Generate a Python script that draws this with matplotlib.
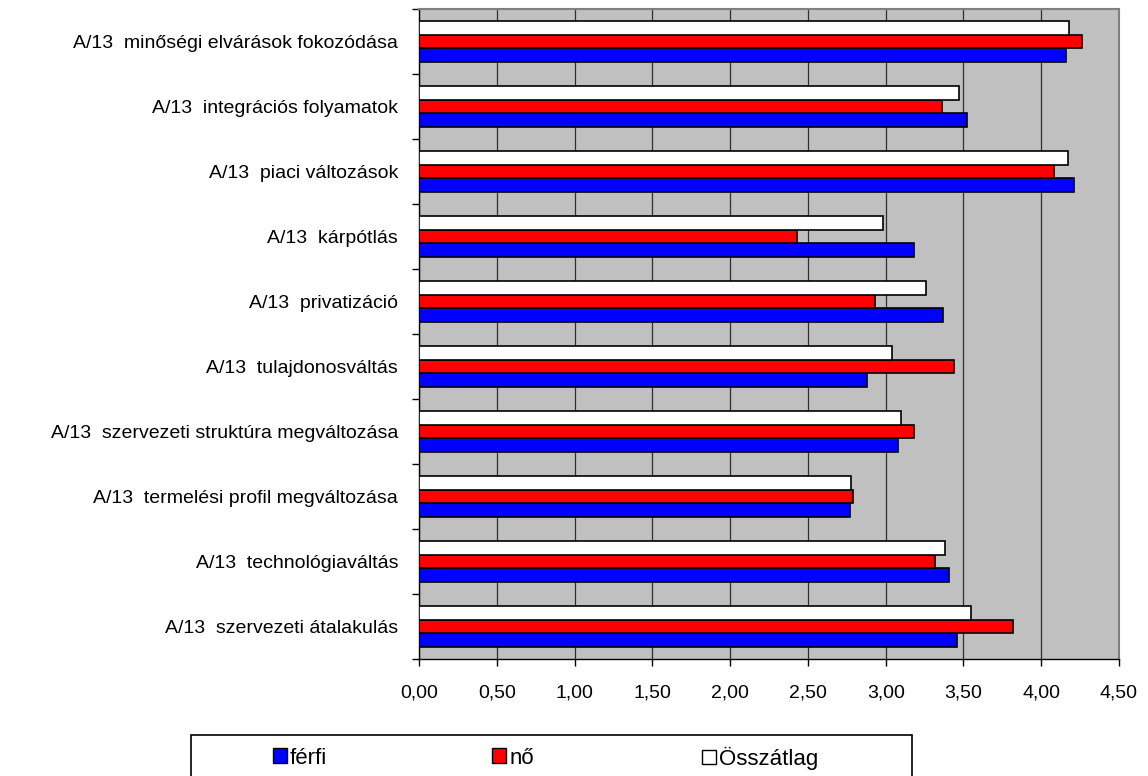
import matplotlib
matplotlib.use("Agg")
import matplotlib.pyplot as plt
from matplotlib.patches import Patch, Rectangle
from matplotlib.ticker import FixedLocator, NullFormatter
import numpy as np

plt.rcParams['font.family'] = ['Liberation Sans', 'DejaVu Sans']

# Categories listed bottom to top
categories = [
    "A/13  szervezeti átalakulás",
    "A/13  technológiaváltás",
    "A/13  termelési profil megváltozása",
    "A/13  szervezeti struktúra megváltozása",
    "A/13  tulajdonosváltás",
    "A/13  privatizáció",
    "A/13  kárpótlás",
    "A/13  piaci változások",
    "A/13  integrációs folyamatok",
    "A/13  minőségi elvárások fokozódása",
]
ferfi = [3.46, 3.41, 2.77, 3.08, 2.88, 3.37, 3.18, 4.21, 3.52, 4.16]
no = [3.82, 3.32, 2.79, 3.18, 3.44, 2.93, 2.43, 4.08, 3.36, 4.26]
osszatlag = [3.55, 3.38, 2.78, 3.10, 3.04, 3.26, 2.985, 4.17, 3.47, 4.18]

x_ticks = [0.0, 0.5, 1.0, 1.5, 2.0, 2.5, 3.0, 3.5, 4.0, 4.5]
x_tick_labels = ["0,00", "0,50", "1,00", "1,50", "2,00",
                 "2,50", "3,00", "3,50", "4,00", "4,50"]

series_names = ["férfi", "nő", "Összátlag"]
series_colors = ["#0000FF", "#FF0000", "#FFFFFF"]

W, H = 1148, 776
fig = plt.figure(figsize=(W / 100, H / 100), dpi=100)
ax = fig.add_axes([419 / W, 1 - 659 / H, 700 / W, 650 / H])
ax.set_facecolor("#C0C0C0")

y = np.arange(len(categories))
h = 0.215
for vals, off, col in zip([ferfi, no, osszatlag], [-h, 0, h], series_colors):
    ax.barh(y + off, vals, height=h, color=col, edgecolor="black",
            linewidth=1.2, zorder=3)

ax.set_xlim(0, 4.5)
ax.set_ylim(-0.5, len(categories) - 0.5)
ax.set_xticks(x_ticks)
ax.set_xticklabels(x_tick_labels)
ax.grid(axis="x", color="#303030", linewidth=0.9, zorder=1)

# Ticks at category boundaries, labels centred between them
ax.yaxis.set_major_locator(FixedLocator(np.arange(-0.5, len(categories), 1)))
ax.yaxis.set_major_formatter(NullFormatter())
ax.yaxis.set_minor_locator(FixedLocator(y))
ax.set_yticklabels(categories, minor=True)
ax.tick_params(axis="y", which="minor", length=0, pad=15, labelsize=14)
ax.tick_params(axis="y", which="major", length=5, width=1, direction="out")
ax.tick_params(axis="x", length=5, width=1, direction="out", pad=13, labelsize=14)

for s in ["top", "right"]:
    ax.spines[s].set_color("#808080")
    ax.spines[s].set_linewidth(1.5)
for s in ["left", "bottom"]:
    ax.spines[s].set_color("black")
    ax.spines[s].set_linewidth(1)

# Legend box running off the bottom edge
fig.patches.append(Rectangle((191 / W, -0.02), 721 / W, 0.02 + 1 - 735 / H,
                             transform=fig.transFigure, facecolor="white",
                             edgecolor="black", linewidth=1.2, zorder=0))

# One legend entry per series, spaced across the box
entry_x = [273, 492, 702]
for name, col, ex in zip(series_names, series_colors, entry_x):
    fig.legend([Patch(facecolor=col, edgecolor="black", linewidth=1)], [name],
               loc="center left", bbox_to_anchor=(ex / W, 1 - 758 / H),
               frameon=False, fontsize=16, handlelength=0.62,
               handleheight=0.62, handletextpad=0.15, borderpad=0,
               borderaxespad=0)

fig.savefig("out.png", dpi=100)
